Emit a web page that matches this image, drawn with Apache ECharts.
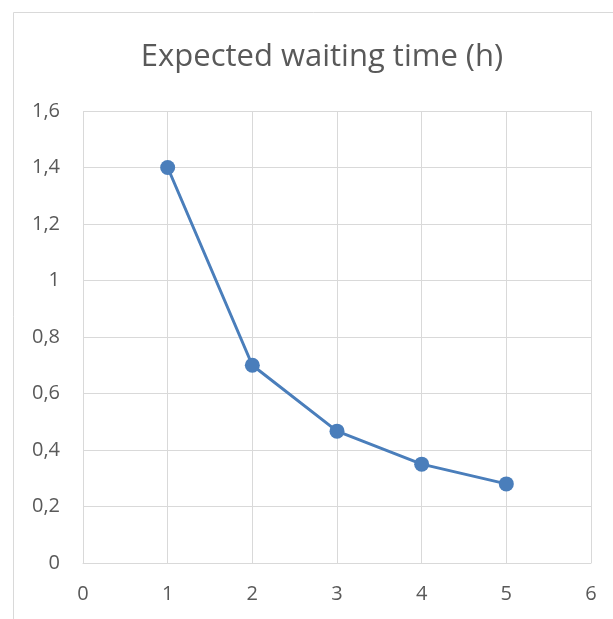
<!DOCTYPE html>
<html>
<head>
<meta charset="utf-8">
<script src="https://cdn.jsdelivr.net/npm/echarts@6/dist/echarts.min.js"></script>
<style>
  html, body { margin: 0; padding: 0; background: #fff; }
  #chart { width: 613px; height: 619px; }
</style>
</head>
<body>
<div id="chart"></div>
<script>
// Number of servers vs. expected waiting time in hours
const servers = [1, 2, 3, 4, 5];
const waitHours = [1.4, 0.7, 0.4667, 0.35, 0.28];
const chartTitle = 'Expected waiting time (h)';

const fmt = v => String(Math.round(v * 10) / 10).replace('.', ',');

const chart = echarts.init(document.getElementById('chart'));
const gridColor = '#d9d9d9';
const textColor = '#595959';
const font = '"Open Sans", "Liberation Sans", sans-serif';

chart.setOption({
  animation: false,
  backgroundColor: '#fff',
  graphic: [{
    type: 'rect',
    shape: { x: 13.5, y: 12.5, width: 700, height: 700 },
    style: { fill: 'none', stroke: gridColor, lineWidth: 1 },
    silent: true,
    z: -1
  }],
  title: {
    text: chartTitle,
    left: 317,
    textAlign: 'center',
    top: 37,
    textStyle: { fontFamily: font, fontSize: 31, fontWeight: 'normal', color: textColor }
  },
  grid: { left: 83, top: 111, right: 22, bottom: 56, containLabel: false },
  xAxis: {
    type: 'value',
    min: 0, max: 6, interval: 1,
    axisLine: { show: true, lineStyle: { color: gridColor, width: 1 } },
    axisTick: { show: false },
    splitLine: { show: true, lineStyle: { color: gridColor, width: 1 } },
    axisLabel: { margin: 21, fontFamily: font, fontSize: 20, color: textColor }
  },
  yAxis: {
    type: 'value',
    min: 0, max: 1.6, interval: 0.2,
    axisLine: { show: false },
    axisTick: { show: false },
    splitLine: { show: true, lineStyle: { color: gridColor, width: 1 } },
    axisLabel: { margin: 23, fontFamily: font, fontSize: 20, color: textColor, formatter: fmt }
  },
  series: [{
    type: 'line',
    data: servers.map((s, i) => [s, waitHours[i]]),
    symbol: 'circle',
    symbolSize: 15,
    lineStyle: { color: '#4a7ebb', width: 3 },
    itemStyle: { color: '#4a7ebb' }
  }]
});
</script>
</body>
</html>
